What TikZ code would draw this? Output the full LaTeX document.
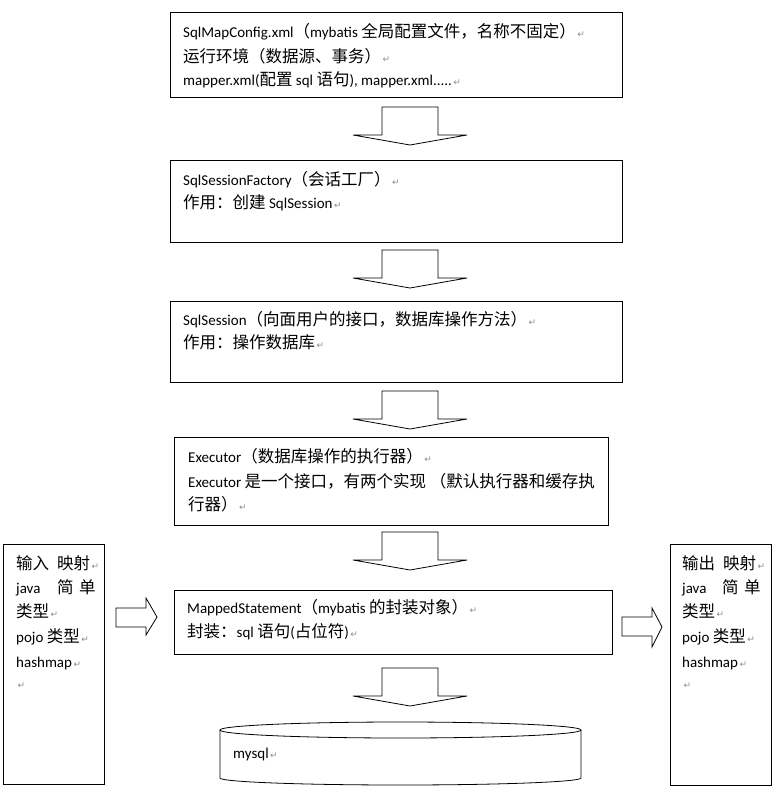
\documentclass[tikz,border=0pt]{standalone}
\usepackage{fontspec}
\setmainfont{Carlito}
\newfontfamily\cjkfont[Scale=1.1]{Noto Sans CJK SC}
\newfontfamily\symfont{DejaVu Sans}
\newcommand\C[1]{{\cjkfont #1}}
\newcommand\pmark{{\symfont\color{black!45}\fontsize{9}{9}\selectfont\,↵}}
\newcommand\dnarrow[1]{\draw[blockarrow] (382,#1) -- (438,#1) -- (438,{#1+28}) -- (467,{#1+28}) -- (410,{#1+38}) -- (353,{#1+28}) -- (382,{#1+28}) -- cycle;}
\begin{document}
\begin{tikzpicture}[x=1pt,y=-1pt,
  box/.style={draw, line width=0.9pt, anchor=north west, inner sep=0pt},
  txt/.style={anchor=base west, inner sep=0pt, font=\fontsize{15}{18}\selectfont},
  blockarrow/.style={draw, line width=0.8pt, fill=white, line join=miter}]
\useasboundingbox (0,0) rectangle (783,793);
\fill[white] (0,0) rectangle (783,793);

% main boxes
\node[box, minimum width=452pt, minimum height=85pt] (cfg) at (170,12) {};
\node[box, minimum width=452pt, minimum height=82pt] (fac) at (170,160) {};
\node[box, minimum width=452pt, minimum height=81pt] (ses) at (170,301) {};
\node[box, minimum width=434pt, minimum height=88pt] (exe) at (174,437) {};
\node[box, minimum width=438pt, minimum height=64pt] (ms) at (174,590) {};
\node[box, minimum width=101pt, minimum height=240pt] (in) at (3,544) {};
\node[box, minimum width=101pt, minimum height=241pt] (out) at (670,544) {};

% block arrows
\dnarrow{107}
\dnarrow{250}
\dnarrow{391}
\dnarrow{532}
\dnarrow{668}
\draw[blockarrow] (116,608) -- (146,608) -- (146,598) -- (157,617) -- (146,635) -- (146,627) -- (116,627) -- cycle;
\draw[blockarrow] (622,617) -- (652,617) -- (652,608) -- (662,627) -- (652,647) -- (652,636) -- (622,636) -- cycle;

% database cylinder
\draw[line width=0.8pt] (400.5,730) ellipse [x radius=180.5pt, y radius=8pt];
\draw[line width=0.8pt] (220,730) -- (220,778) arc[start angle=180, end angle=360, x radius=180.5pt, y radius=7pt] -- (581,730);

% texts box 1
\node[txt] (c1) at (183,37) {SqlMapConfig.xml\C{（}mybatis \C{全局配置文件，名称不固定）}\pmark};
\node[txt] (c2) at (183,62) {\C{运行环境（数据源、事务）}\pmark};
\node[txt] (c3) at (183,85) {mapper.xml(\C{配置} sql \C{语句}), mapper.xml.....\pmark};
% box 2
\node[txt] (f1) at (183,185) {SqlSessionFactory\C{（会话工厂）}\pmark};
\node[txt] (f2) at (183,208) {\C{作用：创建} SqlSession\pmark};
% box 3
\node[txt] (s1) at (183,325) {SqlSession\C{（向面用户的接口，数据库操作方法）}\pmark};
\node[txt] (s2) at (183,348) {\C{作用：操作数据库}\pmark};
% box 4
\node[txt] (e1) at (188,462) {Executor\C{（数据库操作的执行器）}\pmark};
\node[txt] (e2) at (188,487) {Executor \C{是一个接口，有两个实现 （默认执行器和缓存执}};
\node[txt] (e3) at (188,510) {\C{行器）}\pmark};
% box 5
\node[txt] (m1) at (187,613) {MappedStatement\C{（}mybatis \C{的封装对象）}\pmark};
\node[txt] (m2) at (187,637) {\C{封装：}sql \C{语句}(\C{占位符})\pmark};
% mysql
\node[txt] (db) at (233,758) {mysql\pmark};

% input box
\node[txt] (i1) at (16,569) {\C{输入}\hspace{8pt}\C{映射}\pmark};
\node[txt] (i2a) at (16,593) {java};
\node[txt] (i2b) at (57,593) {\C{简}};
\node[txt] (i2c) at (79,593) {\C{单}};
\node[txt] (i3) at (16,617) {\C{类型}\pmark};
\node[txt] (i4) at (16,642) {pojo \C{类型}\pmark};
\node[txt] (i5) at (16,667) {hashmap\pmark};
\node[txt] (i6) at (16,688) {\pmark};

% output box
\node[txt] (o1) at (682,569) {\C{输出}\hspace{8pt}\C{映射}\pmark};
\node[txt] (o2a) at (682,593) {java};
\node[txt] (o2b) at (722,593) {\C{简}};
\node[txt] (o2c) at (744,593) {\C{单}};
\node[txt] (o3) at (682,617) {\C{类型}\pmark};
\node[txt] (o4) at (682,642) {pojo \C{类型}\pmark};
\node[txt] (o5) at (682,667) {hashmap\pmark};
\node[txt] (o6) at (682,688) {\pmark};
\end{tikzpicture}
\end{document}
